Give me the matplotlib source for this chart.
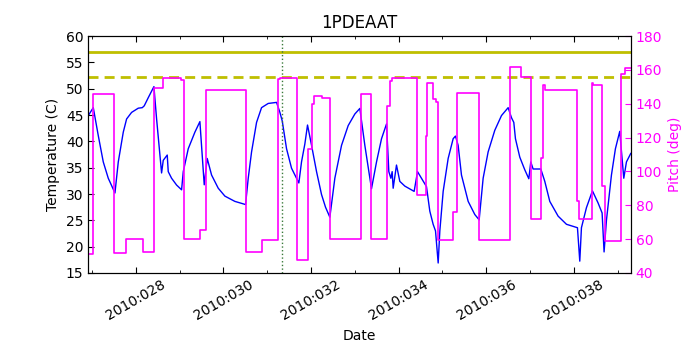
import matplotlib
matplotlib.use("Agg")
import matplotlib.pyplot as plt
import numpy as np

# Temperature series (day of year 2010, deg C)
temp_days = [26.912, 27.026, 27.140, 27.254, 27.368, 27.521, 27.597, 27.711, 27.787, 27.901,
             28.053, 28.145, 28.190, 28.282, 28.411, 28.472, 28.586, 28.624, 28.715, 28.738,
             28.814, 28.929, 29.043, 29.081, 29.195, 29.347, 29.461, 29.560, 29.628, 29.728,
             29.880, 30.032, 30.260, 30.504, 30.565, 30.641, 30.755, 30.869, 31.021, 31.212,
             31.288, 31.341, 31.440, 31.554, 31.721, 31.782, 31.858, 31.919, 32.011, 32.125,
             32.239, 32.330, 32.429, 32.543, 32.696, 32.848, 33.000, 33.114, 33.228, 33.380,
             33.495, 33.609, 33.723, 33.776, 33.822, 33.852, 33.875, 33.951, 34.027, 34.142,
             34.354, 34.431, 34.636, 34.712, 34.788, 34.842, 34.903, 34.941, 35.017, 35.131,
             35.245, 35.298, 35.359, 35.435, 35.588, 35.740, 35.839, 35.930, 36.044, 36.196,
             36.349, 36.501, 36.577, 36.630, 36.668, 36.767, 36.881, 36.973, 37.018, 37.071,
             37.247, 37.338, 37.452, 37.642, 37.833, 38.084, 38.137, 38.175, 38.289, 38.426,
             38.555, 38.647, 38.692, 38.746, 38.860, 38.951, 39.050, 39.142, 39.203, 39.301]
temp_vals = [44.9, 46.4, 41.1, 36.1, 33.0, 30.2, 36.1, 41.75, 44.25, 45.5,
             46.3, 46.4, 46.75, 48.3, 50.4, 44.25, 34.0, 36.4, 37.4, 34.25,
             33.0, 31.7, 30.8, 34.25, 38.6, 41.75, 43.75, 31.75, 36.75, 33.6,
             31.1, 29.6, 28.6, 28.0, 33.0, 38.0, 43.6, 46.4, 47.2, 47.4,
             45.5, 43.9, 38.6, 34.9, 32.1, 36.1, 39.5, 43.1, 39.25, 34.25,
             29.9, 27.5, 25.6, 33.0, 39.25, 43.0, 45.2, 46.25, 39.25, 31.0,
             36.1, 40.5, 43.3, 34.25, 33.0, 34.25, 31.1, 35.5, 32.4, 31.5,
             30.5, 34.25, 31.4, 26.75, 24.25, 23.0, 16.9, 23.0, 30.5, 36.75,
             40.5, 41.0, 39.25, 33.6, 28.6, 26.1, 25.1, 33.0, 38.0, 42.1,
             44.9, 46.4, 44.5, 43.6, 40.5, 37.0, 34.6, 32.9, 36.1, 34.75,
             34.75, 32.4, 28.6, 25.8, 24.25, 23.6, 17.25, 23.6, 27.4, 30.6,
             28.3, 26.4, 19.0, 25.0, 33.6, 38.6, 41.9, 33.0, 36.1, 37.7]

# Pitch series (step changes: day of year, degrees)
pitch_days = [26.912, 27.026, 27.505, 27.772, 28.167, 28.419, 28.624, 29.027, 29.103, 29.461,
              29.598, 30.504, 30.869, 31.234, 31.300, 31.668, 31.935, 32.011, 32.064, 32.254,
              32.429, 33.137, 33.380, 33.738, 33.799, 33.850, 34.408, 34.636, 34.659, 34.788,
              34.842, 34.903, 35.245, 35.342, 35.839, 36.539, 36.805, 37.018, 37.247, 37.300,
              37.353, 38.084, 38.122, 38.426, 38.449, 38.655, 38.708, 39.073, 39.164, 39.301]
pitch_vals = [51.3, 146.0, 52.0, 60.2, 52.3, 149.5, 155.3, 154.3, 60.2, 65.7,
              148.1, 52.3, 59.6, 154.7, 155.3, 47.4, 113.0, 139.8, 144.6, 143.2,
              60.0, 145.6, 60.0, 138.8, 153.4, 155.3, 86.3, 121.0, 152.4, 142.7,
              141.3, 59.4, 75.9, 146.6, 59.4, 161.7, 155.9, 72.1, 108.0, 150.8,
              148.1, 82.4, 72.1, 152.4, 150.8, 91.2, 59.0, 157.8, 161.1, 161.1]

limit_planning = 57.0
limit_caution = 52.3
event_day = 31.33

major_days = [28, 30, 32, 34, 36, 38]
major_labels = ["2010:%03d" % d for d in major_days]
minor_days = [27, 29, 31, 33, 35, 37, 39]

plt.rcParams.update({
    "xtick.direction": "in", "ytick.direction": "in",
    "xtick.top": True, "font.size": 10,
    "xtick.major.size": 4, "ytick.major.size": 4,
    "xtick.minor.size": 2, "ytick.minor.size": 2,
})

fig = plt.figure(figsize=(7, 3.5), dpi=100)
ax1 = fig.add_axes([0.126, 0.22, 0.775, 0.677])
ax1.plot(temp_days, temp_vals, color="#0000ff", lw=1.0)
ax1.axhline(limit_planning, color="#bfbf00", lw=2)
ax1.axhline(limit_caution, color="#bfbf00", lw=2, ls="--", dashes=(3.6, 2.2))
ax1.axvline(event_day, color="#3a7a3a", ls=":", lw=1)
ax1.set_ylim(15, 60)
ax1.set_yticks(np.arange(15, 61, 5))
ax1.set_xlim(26.91, 39.30)
ax1.set_xticks(major_days)
ax1.set_xticklabels(major_labels, rotation=30, ha="center")
ax1.set_xticks(minor_days, minor=True)
ax1.set_ylabel("Temperature (C)")
ax1.set_xlabel("Date")
ax1.set_title("1PDEAAT", fontsize=12)

ax2 = ax1.twinx()
ax2.step(pitch_days, pitch_vals, where="post", color="#ff00ff", lw=1.2)
ax2.set_ylim(40, 180)
ax2.set_yticks(np.arange(40, 181, 20))
ax2.tick_params(axis="y", colors="#ff00ff", direction="in")
ax2.spines["right"].set_color("black")
ax2.set_ylabel("Pitch (deg)", color="#ff00ff")
ax2.set_xlim(26.91, 39.30)

fig.savefig("out.png", dpi=100)
